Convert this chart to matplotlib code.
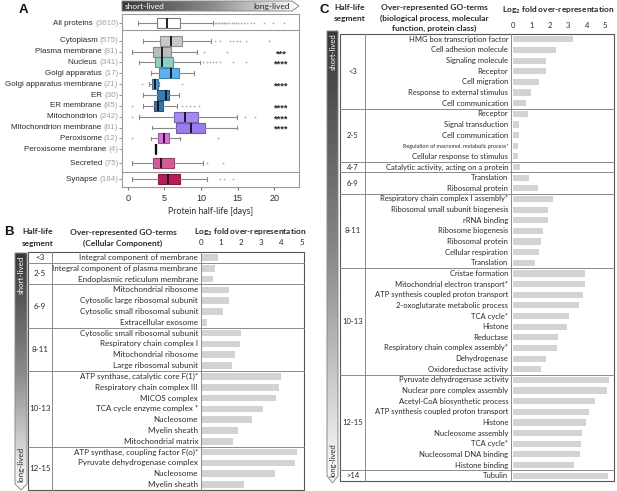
import matplotlib
matplotlib.use("Agg")
import matplotlib.pyplot as plt
import numpy as np
from matplotlib.patches import Polygon, Rectangle
from matplotlib.colors import LinearSegmentedColormap, to_rgb
from matplotlib.transforms import blended_transform_factory

plt.rcParams['font.family'] = ['Lato', 'DejaVu Sans']
plt.rcParams['mathtext.fontset'] = 'custom'
plt.rcParams['mathtext.rm'] = 'Lato:bold'
plt.rcParams['mathtext.bf'] = 'Lato:bold'
plt.rcParams['mathtext.default'] = 'rm'

# ---------------- data: panel A ----------------
A_names = ["All proteins", "Cytoplasm", "Plasma membrane", "Nucleus", "Golgi apparatus",
           "Golgi apparatus membrane", "ER", "ER membrane", "Mitochondrion",
           "Mitochondrion membrane", "Peroxisome", "Peroxisome membrane", "Secreted", "Synapse"]
A_counts = [3610, 575, 81, 341, 17, 21, 30, 85, 242, 81, 12, 4, 75, 184]
A_whislo = [1.36, 2.05, 0.55, 1.60, 3.20, 2.90, 2.05, 2.05, 1.60, 3.30, 3.20, 3.75, 0.55, 0.55]
A_q1 = [4.05, 4.45, 3.50, 3.73, 4.30, 3.36, 3.95, 3.55, 6.30, 6.60, 4.10, 3.75, 3.50, 4.10]
A_med = [5.40, 5.86, 4.64, 4.73, 5.86, 3.77, 5.20, 4.20, 7.80, 8.70, 4.95, 3.80, 4.55, 5.45]
A_q3 = [7.14, 7.36, 5.86, 6.23, 6.95, 4.14, 5.70, 4.86, 9.60, 10.50, 5.70, 3.85, 6.36, 7.14]
A_whishi = [11.7, 11.4, 9.5, 9.86, 9.1, 4.3, 7.05, 6.7, 14.9, 14.9, 7.1, 3.85, 10.3, 10.8]
A_fliers = [
    [11.9, 12.1, 12.3, 12.5, 12.7, 12.9, 13.1, 13.3, 13.6, 13.9, 14.2, 14.5, 14.8, 15.1,
     15.5, 15.9, 16.3, 16.8, 17.2, 18.6, 19.9, 21.3],
    [11.9, 12.6, 14.0, 14.4, 14.9, 15.3, 16.2, 19.3],
    [10.4, 13.5],
    [10.3, 10.8, 11.2, 11.7, 12.1, 12.6, 14.4, 16.2],
    [],
    [1.9, 7.4],
    [],
    [0.55, 7.4, 8.0, 8.5, 9.1, 9.8],
    [0.55, 16.0, 17.4],
    [],
    [0.55, 12.4],
    [],
    [10.8, 13.0],
    [12.6, 13.1, 14.4],
]
A_stars = ["", "", "***", "****", "", "****", "", "****", "****", "****", "", "", "", ""]
A_colors = ["#ffffff", "#c9c9c9", "#bdbdbd", "#8dcfc6", "#5ab3ee", "#4b9bd7", "#3c79b0",
            "#3a74ab", "#a68bf2", "#9a7cf0", "#e06fe6", "#222222", "#d45d98", "#b51d5a"]
A_xticks = [0, 5, 10, 15, 20]

# ---------------- data: panel B ----------------
B_segments = ["<3", "2-5", "6-9", "8-11", "10-13", "12-15"]
B_segment_sizes = [1, 2, 4, 4, 7, 4]
B_terms = ["Integral component of membrane", "Integral component of plasma membrane",
           "Endoplasmic reticulum membrane", "Mitochondrial ribosome",
           "Cytosolic large ribosomal subunit", "Cytosolic small ribosomal subunit",
           "Extracellular exosome", "Cytosolic small ribosomal subunit",
           "Respiratory chain complex I", "Mitochondrial ribosome", "Large ribosomal subunit",
           "ATP synthase, catalytic core F(1)*", "Respiratory chain complex III", "MICOS complex",
           "TCA cycle enzyme complex *", "Nucleosome", "Myelin sheath", "Mitochondrial matrix",
           "ATP synthase, coupling factor F(o)*", "Pyruvate dehydrogenase complex",
           "Nucleosome", "Myelin sheath"]
B_values = [0.84, 0.70, 0.58, 1.37, 1.37, 1.08, 0.28, 1.97, 1.92, 1.69, 1.56,
            3.97, 3.89, 3.74, 3.06, 2.52, 1.82, 1.61, 4.80, 4.70, 3.66, 2.15]

# ---------------- data: panel C ----------------
C_segments = ["<3", "2-5", "4-7", "6-9", "8-11", "10-13", "12-15", ">14"]
C_segment_sizes = [7, 5, 1, 2, 7, 10, 9, 1]
C_terms = ["HMG box transcription factor", "Cell adhesion molecule", "Signaling molecule",
           "Receptor", "Cell migration", "Response to external stimulus", "Cell communication",
           "Receptor", "Signal transduction", "Cell communication",
           "Regulation of macromol. metabolic process*", "Cellular response to stimulus",
           "Catalytic activity, acting on a protein",
           "Translation", "Ribosomal protein",
           "Respiratory chain complex I assembly*", "Ribosomal small subunit biogenesis",
           "rRNA binding", "Ribosome biogenesis", "Ribosomal protein", "Cellular respiration",
           "Translation",
           "Cristae formation", "Mitochondrial electron transport*",
           "ATP synthesis coupled proton transport", "2-oxoglutarate metabolic process",
           "TCA cycle*", "Histone", "Reductase", "Respiratory chain complex assembly*",
           "Dehydrogenase", "Oxidoreductase activity",
           "Pyruvate dehydrogenase activity", "Nuclear pore complex assembly",
           "Acetyl-CoA biosynthetic process", "ATP synthesis coupled proton transport",
           "Histone", "Nucleosome assembly", "TCA cycle*", "Nucleosomal DNA binding",
           "Histone binding",
           "Tubulin"]
C_values = [3.27, 2.31, 1.78, 1.78, 1.42, 0.98, 0.69,
            0.78, 0.33, 0.29, 0.27, 0.25,
            0.36,
            0.85, 1.36,
            2.18, 1.87, 1.87, 1.64, 1.51, 1.42, 1.18,
            3.91, 3.91, 3.82, 3.60, 3.04, 2.91, 2.44, 2.40, 1.76, 1.49,
            5.20, 5.13, 4.44, 4.11, 3.95, 3.73, 3.69, 3.62, 3.31,
            5.18]
C_small_terms = ["Regulation of macromol. metabolic process*"]
LOG_TICKS = [0, 1, 2, 3, 4, 5]

# ---------------- figure ----------------
W, H = 617, 491
fig = plt.figure(figsize=(W / 100, H / 100), dpi=100)


def px_axes(x0, y0, x1, y1, **kw):
    return fig.add_axes([x0 / W, 1 - y1 / H, (x1 - x0) / W, (y1 - y0) / H], **kw)


ov = px_axes(0, 0, W, H)
ov.set_zorder(10)
ov.patch.set_visible(False)
ov.axis('off')

ARIAL = ['Liberation Sans', 'DejaVu Sans']
TXT = '#2a2a2a'


def darker(c, f=0.72):
    r, g, b = to_rgb(c)
    return (r * f, g * f, b * f)


# ---------------- panel A ----------------
gaps = [0, 1.61, 1, 1, 1, 1, 1, 1, 1, 1, 1, 1, 1.29, 1.48]
A_pos = np.cumsum(gaps)
axA = px_axes(122, 14, 299, 187)
stats = []
for i in range(len(A_names)):
    stats.append(dict(med=A_med[i], q1=A_q1[i], q3=A_q3[i], whislo=A_whislo[i],
                      whishi=A_whishi[i], fliers=A_fliers[i], label=''))
kw = dict(positions=A_pos, widths=0.92, patch_artist=True, showfliers=True,
          capwidths=0.35,
          boxprops=dict(linewidth=0.8),
          whiskerprops=dict(color='#8a8a8a', linewidth=0.8),
          capprops=dict(color='#8a8a8a', linewidth=0.8),
          medianprops=dict(color='#111111', linewidth=1.3),
          flierprops=dict(marker='o', markersize=1.3, markerfacecolor='#b0b0b0',
                          markeredgecolor='none'))
try:
    bp = axA.bxp(stats, orientation='horizontal', **kw)
except TypeError:
    bp = axA.bxp(stats, vert=False, **kw)
for patch, col in zip(bp['boxes'], A_colors):
    patch.set_facecolor(col)
    patch.set_edgecolor('#7a7a7a' if col == '#ffffff' else darker(col))
bp['medians'][11].set_linewidth(1.6)

axA.set_xlim(-0.78, 23.4)
axA.set_ylim(A_pos[-1] + 0.71, A_pos[0] - 0.86)
axA.set_xticks(A_xticks)
axA.set_xticklabels([str(t) for t in A_xticks], fontfamily=ARIAL)
axA.tick_params(axis='x', length=2, pad=3, labelsize=6.5, colors='#777', labelcolor=TXT)
axA.set_yticks(A_pos)
axA.set_yticklabels([])
axA.tick_params(axis='y', length=2.5, color='#999')
for s in axA.spines.values():
    s.set_color('#9a9a9a')
    s.set_linewidth(0.8)
axA.axhline(A_pos[0] + 0.62, color='#9a9a9a', lw=0.8)
axA.axhline((A_pos[12] + A_pos[13]) / 2 + 0.05, color='#9a9a9a', lw=0.8)
axA.set_xlabel("Protein half-life [days]", fontsize=6.3, color=TXT, labelpad=3)

trA = blended_transform_factory(axA.transAxes, axA.transData)
for pos, name, cnt, st in zip(A_pos, A_names, A_counts, A_stars):
    ct = axA.text(-0.02, pos, f"({cnt})", transform=trA, ha='right', va='center',
                  color='#a0a0a0', fontsize=5.8, fontfamily=ARIAL)
    axA.annotate(name + " ", xy=(0, 0.5), xycoords=ct, ha='right', va='center',
                 fontsize=5.8, fontfamily=ARIAL, color=TXT)
    if st:
        axA.text(20.9, pos + 0.18, st, ha='center', va='center', fontsize=6.8,
                 fontweight='bold', fontfamily=ARIAL, color=TXT)

# ---------------- gradient arrows ----------------
cmap_g = LinearSegmentedColormap.from_list('g', ['#383838', '#8a8a8a', '#ffffff'])


def grad_arrow(poly, extent, horizontal):
    g = np.linspace(0, 1, 256)
    g = g[None, :] if horizontal else g[:, None]
    im = ov.imshow(g, extent=extent, cmap=cmap_g, aspect='auto', origin='upper',
                   interpolation='bilinear', zorder=1)
    p = Polygon(poly, closed=True, facecolor='none', edgecolor='#8a8a8a', lw=0.7, zorder=2)
    ov.add_patch(p)
    im.set_clip_path(p)


grad_arrow([(122, 1), (292, 1), (299, 6), (292, 11), (122, 11)], [122, 299, 11, 1], True)
ov.text(124.5, 6.2, "short-lived", color='white', fontsize=6.0, ha='left', va='center')
ov.text(289.5, 6.2, "long-lived", color=TXT, fontsize=6.0, ha='right', va='center')

grad_arrow([(15, 253), (27, 253), (27, 484), (21, 490), (15, 484)], [15, 27, 490, 253], False)
ov.text(21.3, 256, "short-lived", color='white', fontsize=5.8, ha='center', va='top', rotation=90)
ov.text(21.3, 482, "long-lived", color=TXT, fontsize=5.8, ha='center', va='bottom', rotation=90)

grad_arrow([(327, 31), (338, 31), (338, 476), (332.5, 483), (327, 476)], [327, 338, 483, 31], False)
ov.text(332.8, 33, "short-lived", color='white', fontsize=5.6, ha='center', va='top', rotation=90)
ov.text(332.8, 477, "long-lived", color=TXT, fontsize=5.6, ha='center', va='bottom', rotation=90)


# ---------------- tables ----------------
def draw_table(x_left, x_seg, x_bar, x_right, y_top, y_bot, zero_px, unit_px,
               segments, sizes, terms, values, fs, bar_h, tick_pad):
    n = len(terms)
    rh = (y_bot - y_top) / n
    ax = px_axes(x_bar, y_top, x_right, y_bot)
    ax.patch.set_visible(False)
    ax.set_xlim((x_bar - zero_px) / unit_px, (x_right - zero_px) / unit_px)
    ax.set_ylim(n, 0)
    ax.barh(np.arange(n) + 0.5, values, height=bar_h, color='#d3d3d3', linewidth=0)
    for s in ax.spines.values():
        s.set_visible(False)
    ax.xaxis.tick_top()
    ax.set_xticks(LOG_TICKS)
    ax.set_xticklabels([str(t) for t in LOG_TICKS])
    ax.tick_params(axis='x', length=0, pad=tick_pad, labelsize=fs, labelcolor=TXT)
    ax.set_yticks([])
    ov.add_patch(Rectangle((x_left, y_top), x_right - x_left, y_bot - y_top, fill=False,
                           ec='#555555', lw=0.8, zorder=3))
    for xx in (x_seg, x_bar):
        ov.plot([xx, xx], [y_top, y_bot], color='#8a8a8a', lw=0.7, zorder=3)
    start = 0
    for seg, sz in zip(segments, sizes):
        if start > 0:
            yy = y_top + start * rh
            ov.plot([x_left, x_right], [yy, yy], color='#8a8a8a', lw=0.7, zorder=3)
        ov.text((x_left + x_seg) / 2, y_top + (start + sz / 2) * rh, seg, ha='center',
                va='center', fontsize=fs, color=TXT)
        start += sz
    for i, t in enumerate(terms):
        small = t in C_small_terms
        ov.text(x_bar - 2.5, y_top + (i + 0.5) * rh + (0.3 if small else 0), t,
                ha='right', va='center', fontsize=fs * 0.72 if small else fs, color=TXT)


draw_table(28, 52, 200.5, 304, 252, 490, 201, 20.1, B_segments, B_segment_sizes,
           B_terms, B_values, 5.8, 0.62, 4.5)
draw_table(340, 365, 510.7, 614.3, 34, 481, 513.3, 18.35, C_segments, C_segment_sizes,
           C_terms, C_values, 5.5, 0.58, 3.8)

# ---------------- headers ----------------
HB = dict(fontsize=6.0, fontweight='bold', color=TXT, ha='center', va='center')
ov.text(38, 232, "Half-life", **HB)
ov.text(38, 243, "segment", **HB)
ov.text(123, 232, "Over-represented GO-terms", **HB)
ov.text(123, 243, "(Cellular Component)", **HB)
ov.text(250, 232, "Log$_2$ fold over-representation", **HB)

ov.text(350, 7.5, "Half-life", **HB)
ov.text(350, 18.5, "segment", **HB)
ov.text(434, 7.5, "Over-represented GO-terms", **HB)
ov.text(434, 18, "(biological process, molecular", **HB)
ov.text(434, 28.5, "function, protein class)", **HB)
ov.text(558, 10.5, "Log$_2$ fold over-representation", **HB)

LB = dict(fontsize=9.5, fontweight='bold', color='#111', ha='center', va='center',
          fontfamily=ARIAL)
ov.text(23, 10, "A", **LB)
ov.text(8.5, 232, "B", **LB)
ov.text(324, 10, "C", **LB)

ov.set_xlim(0, W)
ov.set_ylim(H, 0)

fig.savefig("out.png", dpi=100)
